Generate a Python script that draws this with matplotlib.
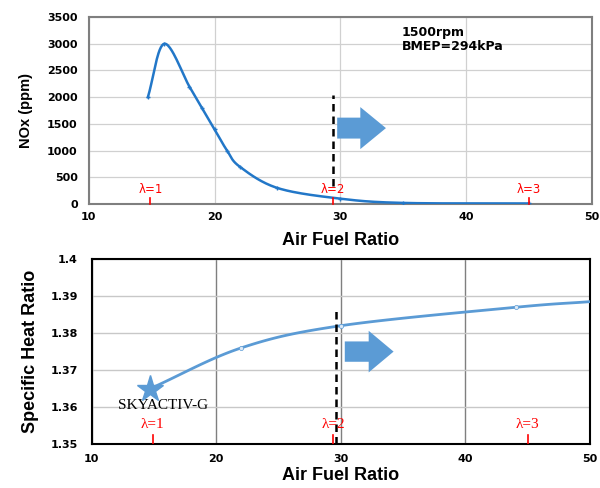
import numpy as np
import matplotlib
matplotlib.use("Agg")
import matplotlib.pyplot as plt
from matplotlib.patches import Polygon

# --- data ---
afr_nox = [14.7, 16.0, 18.0, 19.0, 20.0, 21.0, 22.0, 25.0, 30.0, 35.0, 45.0]
nox_ppm = [2000, 3000, 2200, 1800, 1400, 1000, 700, 300, 100, 20, 10]

afr_gamma = [14.7, 22.0, 30.0, 44.1, 50.0]
gamma = [1.365, 1.376, 1.382, 1.387, 1.3885]

lam_x = [14.9, 29.4, 45.0]
lam_labels = ["λ=1", "λ=2", "λ=3"]

BLUE_TOP = "#2277c8"
BLUE_BOT = "#5b9bd5"


def smooth(x, y, n=30):
    # Catmull-Rom style smoothing like Excel's "smoothed line"
    x = np.asarray(x, float)
    y = np.asarray(y, float)
    px = np.concatenate([[2 * x[0] - x[1]], x, [2 * x[-1] - x[-2]]])
    py = np.concatenate([[2 * y[0] - y[1]], y, [2 * y[-1] - y[-2]]])
    xs, ys = [], []
    t = np.linspace(0, 1, n)
    for i in range(1, len(px) - 2):
        p0, p1, p2, p3 = [np.array([px[j], py[j]]) for j in range(i - 1, i + 3)]
        c1 = p1 + (p2 - p0) / 6.0
        c2 = p2 - (p3 - p1) / 6.0
        for tt in t:
            b = ((1 - tt) ** 3) * p1 + 3 * ((1 - tt) ** 2) * tt * c1 \
                + 3 * (1 - tt) * tt ** 2 * c2 + tt ** 3 * p2
            xs.append(b[0])
            ys.append(b[1])
    return xs, ys


def arrow(ax, x0, x1, yc, head_h, shaft_h, head_start):
    pts = [(x0, yc - shaft_h / 2), (head_start, yc - shaft_h / 2),
           (head_start, yc - head_h / 2), (x1, yc),
           (head_start, yc + head_h / 2), (head_start, yc + shaft_h / 2),
           (x0, yc + shaft_h / 2)]
    ax.add_patch(Polygon(pts, closed=True, transform=ax.transAxes,
                         facecolor=BLUE_BOT, edgecolor="none", zorder=4))


fig = plt.figure(figsize=(6.0, 4.88), dpi=100)
tickfont = dict(family="DejaVu Sans", weight="bold", size=8)

# ---------------- top: NOx ----------------
ax1 = fig.add_axes([0.148, 0.582, 0.838, 0.383])
sx, sy = smooth(afr_nox, nox_ppm)
ax1.plot(sx, sy, color=BLUE_TOP, lw=1.8, zorder=3)
ax1.plot(afr_nox, nox_ppm, ls="none", marker="+", ms=3, color=BLUE_TOP, zorder=3)
ax1.set_xlim(10, 50)
ax1.set_ylim(0, 3500)
ax1.set_xticks(np.arange(10, 51, 10))
ax1.set_yticks(np.arange(0, 3501, 500))
ax1.grid(True, color="#d0d0d0", lw=0.9)
ax1.set_axisbelow(True)
for s in ax1.spines.values():
    s.set_color("#7f7f7f")
    s.set_linewidth(1.5)
ax1.tick_params(axis="y", length=0, pad=8)
ax1.tick_params(axis="x", length=0, pad=6)
for lb in ax1.get_xticklabels() + ax1.get_yticklabels():
    lb.set(**tickfont)
ax1.set_ylabel("NOx (ppm)", family="Liberation Sans",
               weight="bold", size=10.5, labelpad=10)
ax1.set_xlabel("Air Fuel Ratio", family="Liberation Sans", weight="bold",
               size=13, labelpad=7)
ax1.text(34.9, 3330, "1500rpm\nBMEP=294kPa", family="DejaVu Sans",
         weight="bold", size=9, va="top", ha="left", linespacing=1.05)
ax1.plot([29.4, 29.4], [330, 2050], color="black", lw=1.8, ls=(0, (3, 2)), zorder=4)
for x, t in zip(lam_x, lam_labels):
    ax1.plot([x, x], [0, 110], color="red", lw=1.2, zorder=5, clip_on=False)
    ax1.text(x, 150, t, color="red", ha="center", va="bottom",
             family="DejaVu Sans", size=8.5, zorder=5)
arrow(ax1, 0.494, 0.591, 0.406, 0.225, 0.112, 0.54)

# ---------------- bottom: specific heat ratio ----------------
ax2 = fig.add_axes([0.153, 0.090, 0.83, 0.379])
sx, sy = smooth(afr_gamma, gamma)
ax2.plot(sx, sy, color=BLUE_BOT, lw=2.0, zorder=3)
ax2.plot(afr_gamma[1:4], gamma[1:4], ls="none", marker="o", ms=3,
         mfc="#dce9f6", mec=BLUE_BOT, mew=0.5, zorder=4)
ax2.plot(afr_gamma[0], gamma[0], ls="none", marker="*", ms=20,
         color=BLUE_BOT, zorder=5)
ax2.set_xlim(10, 50)
ax2.set_ylim(1.35, 1.40)
ax2.set_xticks(np.arange(10, 51, 10))
ax2.set_yticks(np.arange(1.35, 1.4001, 0.01))
ax2.set_yticklabels(["1.35", "1.36", "1.37", "1.38", "1.39", "1.4"])
ax2.yaxis.grid(True, color="#c8c8c8", lw=1.0)
ax2.xaxis.grid(True, color="#7f7f7f", lw=1.0)
ax2.set_axisbelow(True)
for s in ax2.spines.values():
    s.set_color("black")
    s.set_linewidth(1.5)
ax2.tick_params(axis="y", length=0, pad=10)
ax2.tick_params(axis="x", length=0, pad=7)
for lb in ax2.get_xticklabels() + ax2.get_yticklabels():
    lb.set(**tickfont)
ax2.set_ylabel("Specific Heat Ratio", family="Liberation Sans", weight="bold",
               size=13, labelpad=8)
ax2.set_xlabel("Air Fuel Ratio", family="Liberation Sans", weight="bold",
               size=13, labelpad=2)
ax2.text(15.7, 1.3605, "SKYACTIV-G", family="Liberation Serif", size=11,
         ha="center", va="center", zorder=5)
ax2.plot([29.65, 29.65], [1.35, 1.3862], color="black", lw=1.8,
         ls=(0, (3, 2)), zorder=4)
for x, t in zip(lam_x, lam_labels):
    ax2.plot([x, x], [1.35, 1.3525], color="red", lw=1.2, zorder=5)
    ax2.text(x, 1.3535, t, color="red", ha="center", va="bottom",
             family="Liberation Serif", size=11, zorder=5)
arrow(ax2, 0.508, 0.606, 0.5, 0.225, 0.11, 0.556)

fig.savefig("out.png", dpi=100)
